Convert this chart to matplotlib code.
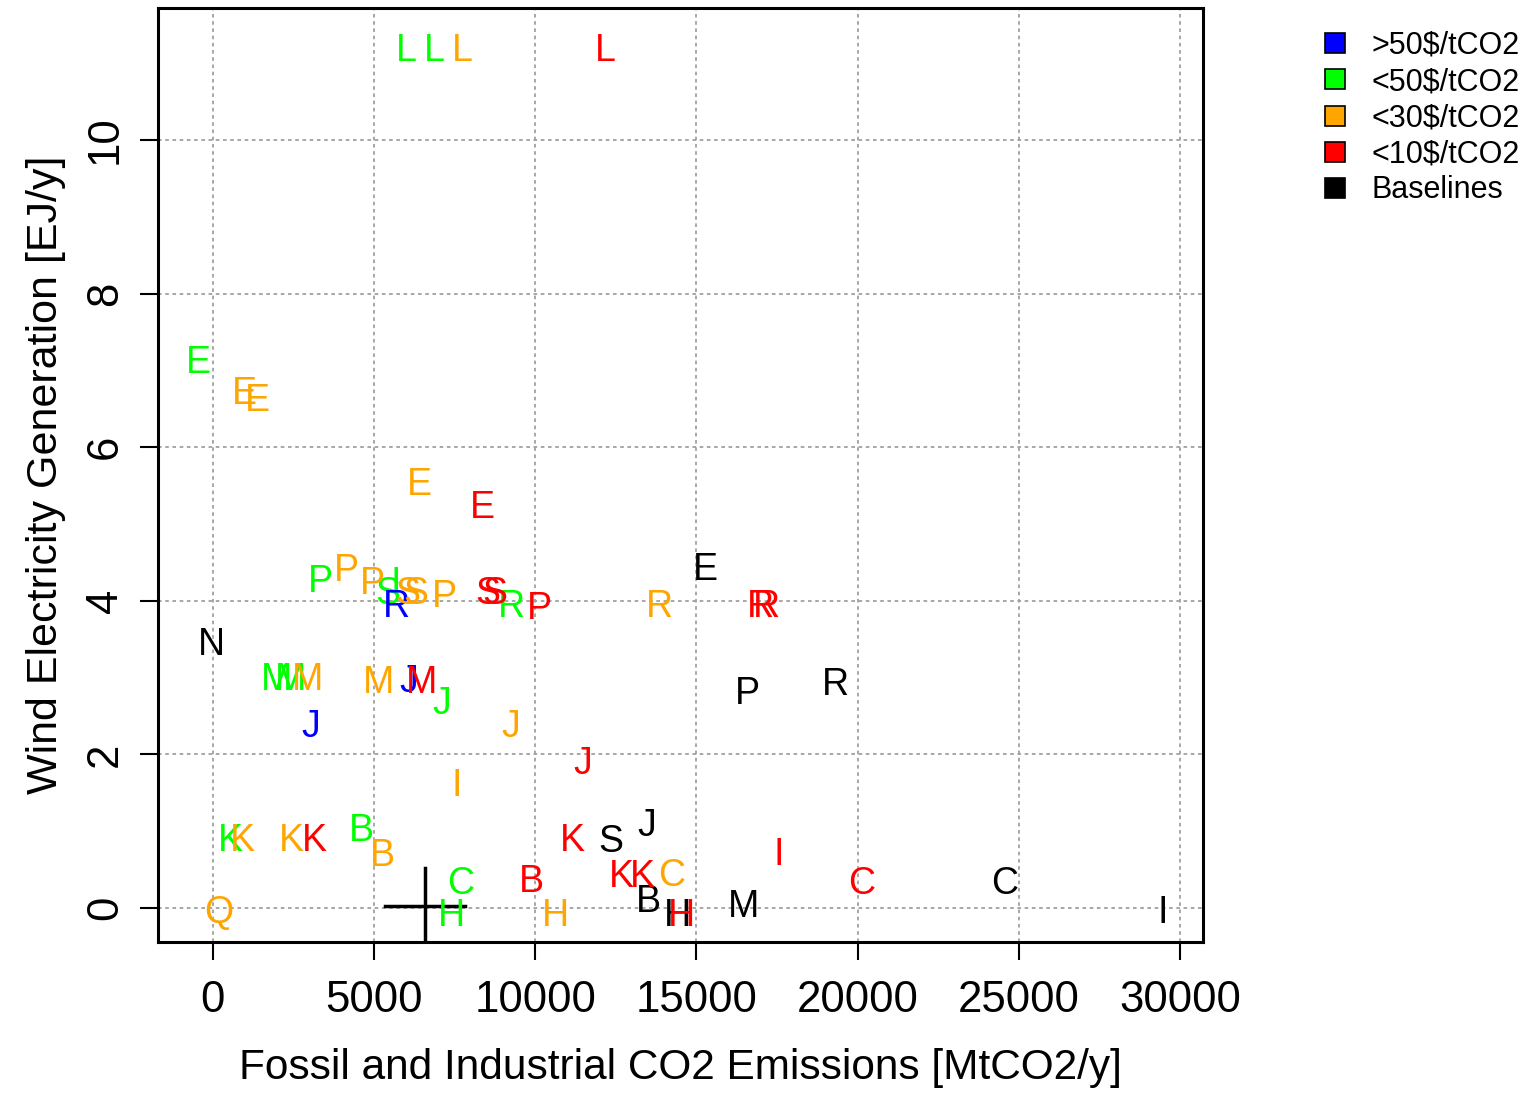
import matplotlib
matplotlib.use("Agg")
import matplotlib.pyplot as plt
from matplotlib.lines import Line2D

plt.rcParams["font.family"] = ["Liberation Sans", "DejaVu Sans"]

# Scenario letters, emissions (MtCO2/y) and wind generation (EJ/y) per price group
base_lab = ["E", "N", "P", "R", "J", "S", "B", "H", "M", "C", "I"]
base_x = [15264, -31, 16598, 19328, 13464, 12348, 13526, 14426, 16474, 24571, 29473]
base_y = [4.45, 3.48, 2.84, 2.96, 1.12, 0.91, 0.13, -0.05, 0.07, 0.36, -0.01]

green_lab = ["L", "L", "E", "P", "S", "I", "R", "M", "M", "J", "B", "K", "C", "H"]
green_x = [5988, 6856, -434, 3351, 5429, 5677, 9276, 1986, 2420, 7105, 4623, 560, 7694, 7415]
green_y = [11.21, 11.21, 7.15, 4.30, 4.14, 4.27, 3.97, 3.02, 3.02, 2.71, 1.05, 0.92, 0.36, -0.05]

blue_lab = ["R", "J", "J"]
blue_x = [5708, 6081, 3040]
blue_y = [3.97, 3.00, 2.41]

orange_lab = ["L", "E", "E", "E", "P", "P", "S", "S", "P", "R", "M", "M", "J", "I",
              "K", "K", "B", "C", "Q", "H"]
orange_x = [7725, 993, 1396, 6422, 4157, 4964, 6050, 6298, 7198, 13868, 2947, 5150,
            9245, 7570, 930, 2450, 5274, 14240, 186, 10641]
orange_y = [11.21, 6.74, 6.65, 5.56, 4.44, 4.27, 4.14, 4.14, 4.10, 3.97, 3.02, 2.98,
            2.41, 1.64, 0.92, 0.92, 0.73, 0.47, -0.01, -0.05]

red_lab = ["L", "E", "S", "S", "P", "R", "R", "M", "J", "K", "K", "K", "K", "I", "C",
           "B", "H"]
red_x = [12161, 8376, 8532, 8749, 10145, 17001, 17187, 6484, 11479, 3160, 11169,
         12689, 13340, 17560, 20135, 9897, 14550]
red_y = [11.21, 5.26, 4.14, 4.14, 3.95, 3.97, 3.97, 2.98, 1.93, 0.92, 0.92, 0.46,
         0.46, 0.74, 0.36, 0.39, -0.05]

# historical value with range
hist_x = 6577
hist_y = 0.03
hist_x_range = [5336, 7818]
hist_y_range = [0.52, -1.0]

groups = [
    (base_lab, base_x, base_y, "black"),
    (green_lab, green_x, green_y, "#00FF00"),
    (blue_lab, blue_x, blue_y, "#0000FF"),
    (orange_lab, orange_x, orange_y, "#FFA500"),
    (red_lab, red_x, red_y, "#FF0000"),
]

legend_labels = [">50$/tCO2", "<50$/tCO2", "<30$/tCO2", "<10$/tCO2", "Baselines"]
legend_colors = ["#0000FF", "#00FF00", "#FFA500", "#FF0000", "black"]

fig = plt.figure(figsize=(15.24, 10.95), dpi=100)
ax = fig.add_axes([158 / 1524, 1 - 942 / 1095, (1203 - 158) / 1524, (942 - 8) / 1095])

for lab, xs, ys, col in groups:
    for l, x, y in zip(lab, xs, ys):
        ax.text(x, y, l, color=col, fontsize=27, ha="center", va="center_baseline")

# Cross for the historical point
ax.plot(hist_x_range, [hist_y, hist_y], color="black", lw=2.5)
ax.plot([hist_x, hist_x], hist_y_range, color="black", lw=2.5)

ax.set_xlim(-1700, 30715)
ax.set_ylim(-0.443, 11.72)
ax.set_xticks(range(0, 30001, 5000))
ax.set_yticks(range(0, 11, 2))
ax.set_yticklabels([str(v) for v in range(0, 11, 2)], rotation=90, va="center")
ax.grid(True, color="#a0a0a0", linestyle=(0, (2, 2)), lw=1.3)
ax.set_axisbelow(True)
ax.tick_params(axis="both", labelsize=31.5, length=13, width=1.5)
ax.tick_params(axis="x", pad=14)
ax.tick_params(axis="y", pad=10)
for s in ax.spines.values():
    s.set_linewidth(2.2)

ax.set_xlabel("Fossil and Industrial CO2 Emissions [MtCO2/y]", fontsize=30.5, labelpad=20)
ax.set_ylabel("Wind Electricity Generation [EJ/y]", fontsize=31, labelpad=14)

handles = [Line2D([], [], marker="s", linestyle="none", markersize=15,
                  markerfacecolor=c, markeredgecolor="black", markeredgewidth=1.2)
           for c in legend_colors]
fig.legend(handles, legend_labels, loc="upper left", bbox_to_anchor=(1320 / 1524, 1 - 31 / 1095),
           frameon=False, fontsize=22, handlelength=1.0, handletextpad=0.7,
           labelspacing=0.2, borderpad=0, borderaxespad=0)

plt.savefig("out.png", dpi=100)
plt.close()
